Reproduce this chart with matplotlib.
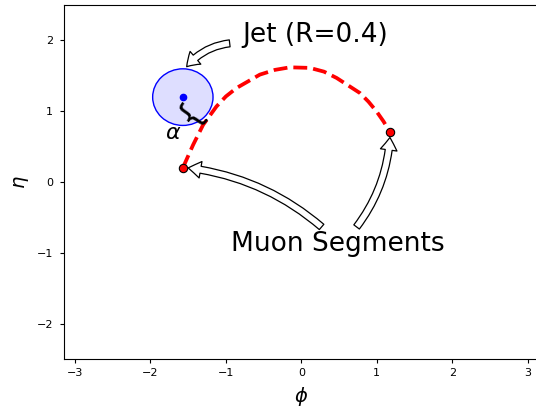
import numpy as np
import matplotlib
matplotlib.use("Agg")
import matplotlib.pyplot as plt
from matplotlib.patches import Circle

# jet and muon segment positions (phi, eta)
jet_phi, jet_eta, jet_R = -np.pi / 2, 1.2, 0.4
muon_phi = [-1.571, 1.174]
muon_eta = [0.20, 0.705]

# dashed trajectory between the two segments
track_phi = [-1.571, -1.50, -1.435, -1.302, -1.125, -1.00, -0.859, -0.550,
             -0.35, -0.153, 0.113, 0.30, 0.467, 0.776, 0.89, 0.997, 1.09, 1.174]
track_eta = [0.20, 0.37, 0.525, 0.809, 1.068, 1.21, 1.329, 1.518,
             1.585, 1.621, 1.613, 1.56, 1.471, 1.258, 1.135, 0.997, 0.855, 0.705]

fig = plt.figure(figsize=(5.36, 4.12), dpi=100)
ax = fig.add_axes([0.12, 0.1286, 0.8845, 0.859])
ax.spines["right"].set_visible(False)

ax.add_patch(Circle((jet_phi, jet_eta), jet_R, facecolor=(0, 0, 1, 0.13),
                    edgecolor="blue", lw=1.0, zorder=2))
ax.plot(jet_phi, jet_eta, "o", color="blue", ms=4.5, zorder=4)

ax.plot(track_phi, track_eta, "--", color="red", lw=2.7, zorder=3)
ax.plot(muon_phi, muon_eta, "o", color="red", mec="black", mew=0.8, ms=6, zorder=5)

arrow = dict(arrowstyle="simple,head_length=0.45,head_width=0.6,tail_width=0.25",
             fc="white", ec="black", lw=0.9, mutation_scale=20, shrinkA=0, shrinkB=0)

ax.text(0.18, 1.98, "Jet (R=0.4)", fontsize=19, ha="center", va="baseline")
ax.annotate("", xy=(-1.52, 1.63), xytext=(-0.95, 1.96),
            arrowprops=dict(arrow, connectionstyle="arc3,rad=0.2"))

ax.text(0.477, -0.97, "Muon Segments", fontsize=19, ha="center", va="baseline")
ax.annotate("", xy=(-1.50, 0.20), xytext=(0.268, -0.634),
            arrowprops=dict(arrow, connectionstyle="arc3,rad=0.15"))
ax.annotate("", xy=(1.174, 0.63), xytext=(0.732, -0.634),
            arrowprops=dict(arrow, connectionstyle="arc3,rad=0.15"))

# angle between jet axis and muon track
ax.text(-1.466, 0.98, "{", fontsize=24, rotation=55, ha="center", va="center")
ax.text(-1.70, 0.69, r"$\alpha$", fontsize=16, ha="center", va="center")

ax.set_xlim(-np.pi, np.pi)
ax.set_ylim(-2.5, 2.5)
ax.set_xticks([-3, -2, -1, 0, 1, 2, 3])
ax.set_yticks([-2, -1, 0, 1, 2])
ax.tick_params(labelsize=8, length=3, width=0.8)
ax.tick_params(axis="y", pad=5)
ax.set_xlabel(r"$\phi$", fontsize=14, labelpad=5)
ax.set_ylabel(r"$\eta$", fontsize=14, labelpad=4)

fig.savefig("out.png", dpi=100)
